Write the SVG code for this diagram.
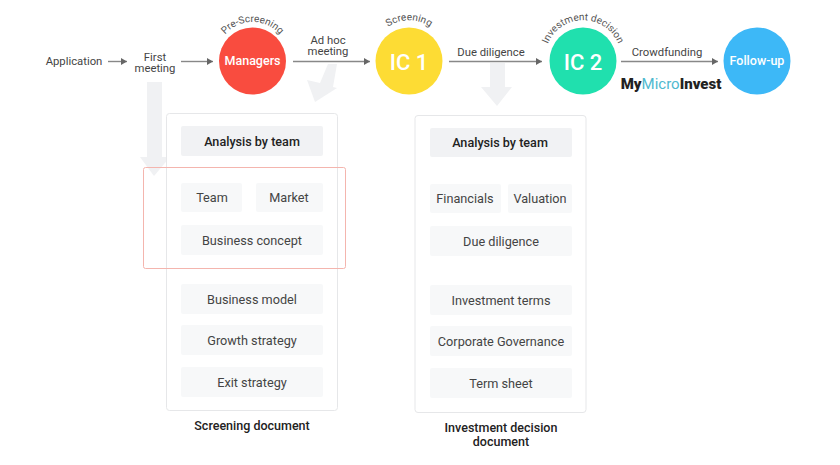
<svg xmlns="http://www.w3.org/2000/svg" width="840" height="465" viewBox="0 0 840 465">
<style>
text{font-family:Roboto,"Liberation Sans",sans-serif;text-anchor:middle}
.lbl{font-size:11.3px;fill:#444}
.arc{font-size:10px;fill:#555}
.flow{stroke:#888;stroke-width:1.4;fill:none;marker-end:url(#ah)}
.big{fill:#f0f1f3}
.panel{fill:#fff;stroke:#e6e7e9;stroke-width:1}
.hd rect{fill:#f1f2f4}
.hd text{font-size:12.6px;font-weight:500;fill:#222}
.it rect{fill:#f7f8f9}
.it text{font-size:12.7px;fill:#444}
.cap{font-size:12.5px;font-weight:500;fill:#222}
</style>
<defs>
<marker id="ah" markerWidth="8" markerHeight="8" refX="6" refY="3.5" orient="auto" markerUnits="userSpaceOnUse"><path d="M0,0L6,3.5L0,7z" fill="#666"/></marker>
<path id="a1" d="M222.500,38A36,36 0 0 1 282.500,38"/>
<path id="a2" d="M384,30A37,37 0 0 1 434,30"/>
<path id="a3" d="M547,46A38,38 0 0 1 619,46"/>
</defs>
<g id="big-arrows">
<path class="big" d="M147,82H162V157H170L154,176L140,157H147z"/>
<path class="big" d="M328,64H337L333,87L337,88L315,102L307,80L320,83z"/>
<path class="big" d="M490,63H505V87H512L497,106L481,87H490z"/>
</g>
<g id="panel-screening"><rect class="panel" x="166.500" y="113.500" width="171" height="297" rx="3"/></g>
<g id="panel-decision"><rect class="panel" x="415" y="115.500" width="171" height="297" rx="3"/></g>
<g id="connectors">
<path class="flow" d="M108,61.500H127"/>
<path class="flow" d="M181,61.500H213"/>
<path class="flow" d="M293,61.500H370"/>
<path class="flow" d="M449,61.500H542"/>
<path class="flow" d="M621,61.500H718"/>
</g>
<g id="application"><text class="lbl" x="74" y="64.500">Application</text></g>
<g id="first-meeting"><text class="lbl" x="155" y="60.500">First<tspan x="155" dy="11.300">meeting</tspan></text></g>
<g id="ad-hoc"><text class="lbl" x="328" y="43.500">Ad hoc<tspan x="328" dy="11.300">meeting</tspan></text></g>
<g id="due-diligence"><text class="lbl" x="491" y="56">Due diligence</text></g>
<g id="crowdfunding"><text class="lbl" x="667" y="56">Crowdfunding</text></g>
<g id="managers"><circle cx="252.500" cy="61" r="33.500" fill="#f94c3f"/><text x="252.500" y="64.500" font-size="12.500" font-weight="500" fill="#fff">Managers</text>
<text class="arc"><textPath href="#a1" startOffset="50%">Pre-Screening</textPath></text></g>
<g id="ic1"><circle cx="409" cy="61" r="33.500" fill="#fddc34"/><text x="409" y="70" font-size="22" font-weight="500" fill="#fff">IC 1</text>
<text class="arc"><textPath href="#a2" startOffset="50%">Screening</textPath></text></g>
<g id="ic2"><circle cx="583" cy="61" r="33.500" fill="#20e0ae"/><text x="583" y="70" font-size="22" font-weight="500" fill="#fff">IC 2</text>
<text class="arc"><textPath href="#a3" startOffset="50%">Investment decision</textPath></text></g>
<g id="follow-up"><circle cx="757" cy="61" r="33.500" fill="#3db8f7"/><text x="757" y="64.500" font-size="12.500" font-weight="500" fill="#fff">Follow-up</text></g>
<g id="mymicroinvest"><text x="671" y="89" font-family="Lato,sans-serif" font-size="15" font-weight="900" fill="#222">My<tspan fill="#4fb9cf" font-weight="400">Micro</tspan>Invest</text></g>
<g id="s-analysis" class="hd"><rect x="181" y="126" width="142" height="30" rx="2"/><text x="252" y="145.500">Analysis by team</text></g>
<g id="s-team" class="it"><rect x="181" y="183" width="61" height="29" rx="2"/><text x="212" y="201.500">Team</text></g>
<g id="s-market" class="it"><rect x="256" y="183" width="67" height="29" rx="2"/><text x="289" y="201.500">Market</text></g>
<g id="s-concept" class="it"><rect x="181" y="225" width="142" height="30" rx="2"/><text x="252" y="244.500">Business concept</text></g>
<g id="s-model" class="it"><rect x="181" y="284" width="142" height="30" rx="2"/><text x="252" y="303.500">Business model</text></g>
<g id="s-growth" class="it"><rect x="181" y="325" width="142" height="30" rx="2"/><text x="252" y="344.500">Growth strategy</text></g>
<g id="s-exit" class="it"><rect x="181" y="367" width="142" height="30" rx="2"/><text x="252" y="386.500">Exit strategy</text></g>
<g id="highlight"><rect x="143.500" y="167.500" width="202" height="101" rx="2" fill="none" stroke="#f4b5ae" stroke-width="1"/></g>
<g id="d-analysis" class="hd"><rect x="430" y="128" width="142" height="29" rx="2"/><text x="500" y="147">Analysis by team</text></g>
<g id="d-financials" class="it"><rect x="430" y="184" width="71" height="29" rx="2"/><text x="465" y="202.500">Financials</text></g>
<g id="d-valuation" class="it"><rect x="508" y="184" width="64" height="29" rx="2"/><text x="540" y="202.500">Valuation</text></g>
<g id="d-dd" class="it"><rect x="430" y="226" width="142" height="30" rx="2"/><text x="501" y="245.500">Due diligence</text></g>
<g id="d-terms" class="it"><rect x="430" y="285" width="142" height="30" rx="2"/><text x="501" y="304.500">Investment terms</text></g>
<g id="d-gov" class="it"><rect x="430" y="326" width="142" height="30" rx="2"/><text x="501" y="345.500">Corporate Governance</text></g>
<g id="d-sheet" class="it"><rect x="430" y="368" width="142" height="30" rx="2"/><text x="501" y="387.500">Term sheet</text></g>
<g id="cap-screening"><text class="cap" x="252" y="430">Screening document</text></g>
<g id="cap-decision"><text class="cap" x="501" y="432">Investment decision<tspan x="501" dy="14">document</tspan></text></g>
</svg>
